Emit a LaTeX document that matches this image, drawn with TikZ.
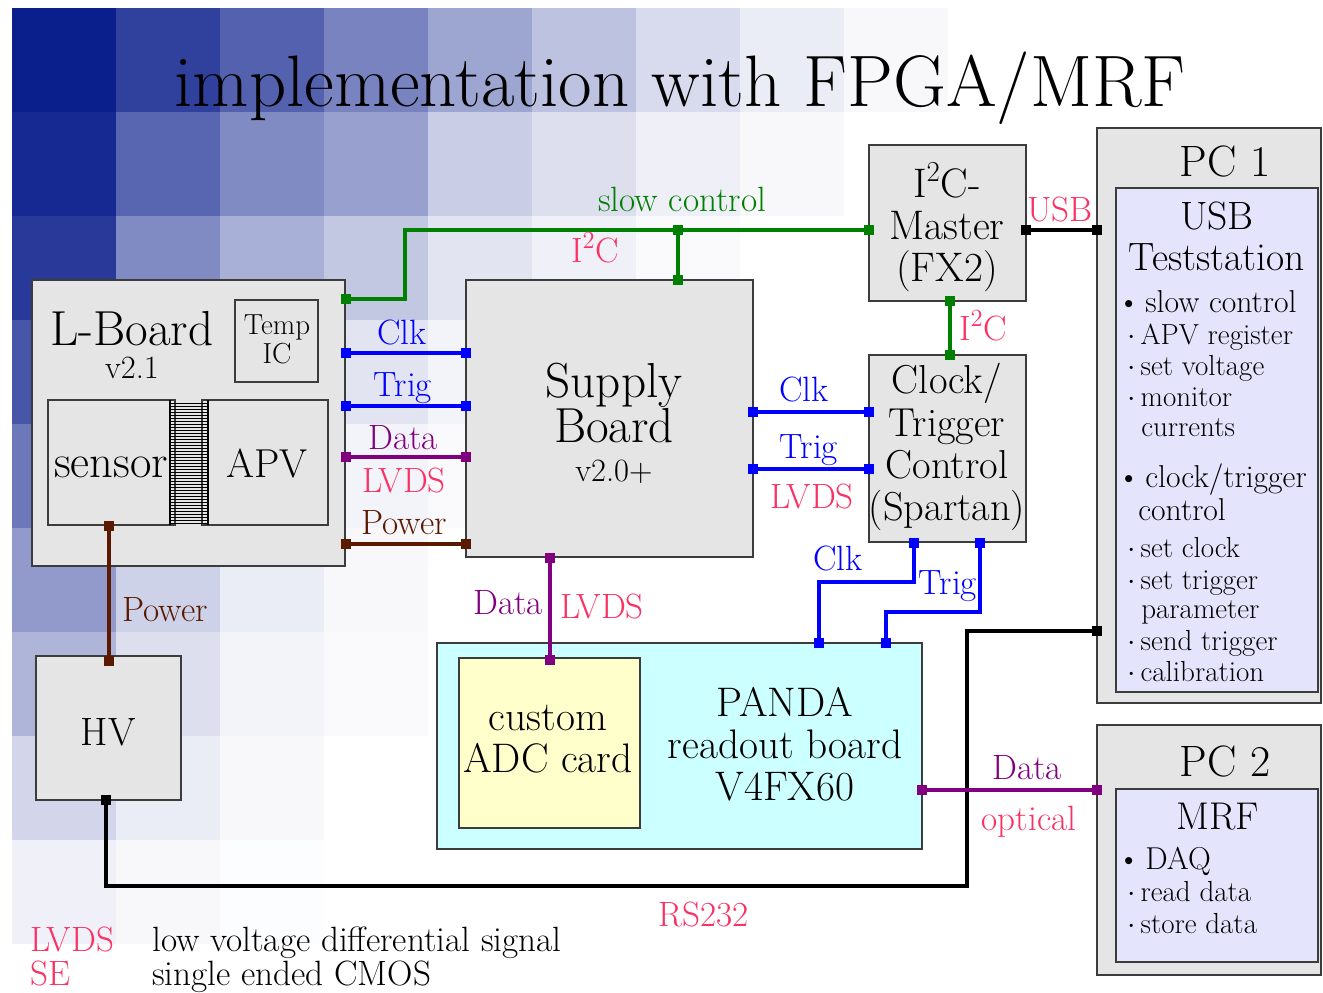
\documentclass[tikz,border=0pt]{standalone}
\usepackage{fontspec}
\usetikzlibrary{fit}

\definecolor{bgblue}{RGB}{10,30,140}
\definecolor{boxgray}{RGB}{229,229,229}
\definecolor{boxline}{RGB}{60,60,60}
\definecolor{pandafill}{RGB}{204,255,255}
\definecolor{adcfill}{RGB}{255,255,204}
\definecolor{pcfill}{RGB}{228,228,252}
\definecolor{sgreen}{RGB}{0,128,0}
\definecolor{sblue}{RGB}{0,0,255}
\definecolor{spurple}{RGB}{128,0,128}
\definecolor{sbrown}{RGB}{90,25,0}
\definecolor{spink}{RGB}{250,50,100}

\newcommand{\titlefont}{\fontsize{41.5}{46}\selectfont}
\newcommand{\headfont}{\fontsize{28}{26}\selectfont}
\newcommand{\pcfont}{\fontsize{25}{26}\selectfont}
\newcommand{\boxfont}{\fontsize{23.5}{24}\selectfont}
\newcommand{\sigfont}{\fontsize{20}{22}\selectfont}
\newcommand{\itemfont}{\fontsize{18}{20}\selectfont}
\newcommand{\subfont}{\fontsize{16.5}{18}\selectfont}
\newcommand{\tinyboxfont}{\fontsize{16.5}{18}\selectfont}
\newcommand{\Itwoc}{I\textsuperscript{2}C}

\tikzset{
  box/.style={draw=boxline, fill=boxgray, line width=0.8pt, inner sep=0pt},
  lbl/.style={anchor=base, inner sep=0pt},
  item/.style={anchor=base west, inner sep=0pt, font=\itemfont},
  subitem/.style={anchor=base west, inner sep=0pt, font=\subfont},
  wire/.style={line width=2.8pt, draw=#1},
  plug/.style={fill=#1, inner sep=0pt, minimum size=0.2cm},
}

\begin{document}
\begin{tikzpicture}[x=0.02cm, y=-0.02cm]
  % frame is (0,0) to (1323,992), y grows downwards
  \useasboundingbox (0,0) rectangle (1323,992);

  % background tiles, one row of tints per line
  \foreach \row [count=\j from 0] in {
      {100,85,70,55,40,27,16,8,3},
      {95,68,52,42,22,14,7,3,0},
      {88,52,35,25,12,6,2,0,0},
      {75,38,22,12,5,2,0,0,0},
      {60,28,12,5,2,0,0,0,0},
      {45,20,8,3,0,0,0,0,0},
      {33,14,5,2,0,0,0,0,0},
      {18,8,3,0,0,0,0,0,0},
      {6,3,1,0,0,0,0,0,0}}
    \foreach \tint [count=\i from 0] in \row
      \fill[bgblue!\tint!white] ({12+104*\i},{8+104*\j}) rectangle ++(104,104);

  % title
  \node[lbl, font=\titlefont] (title) at (680,106) {implementation with FPGA/MRF};

  % L-Board
  \node[box, fit={(32,280) (345,566)}] (lboard) {};
  \node[lbl, font=\headfont] (lbname) at (132,345) {L-Board};
  \node[lbl, font=\fontsize{18.5}{20}\selectfont] (lbver) at (132,378) {v2.1};
  \node[box, fit={(235,300) (318,382)}] (temp) {};
  \node[lbl, font=\tinyboxfont] (tempa) at (277,334) {Temp};
  \node[lbl, font=\tinyboxfont] (tempb) at (277,363) {IC};
  \node[box, fit={(48,400) (175,525)}] (sensor) {};
  \node[box, fit={(202,400) (328,525)}] (apv) {};
  \node[lbl, font=\fontsize{26.5}{28}\selectfont] (sensorname) at (111,477) {sensor};
  \node[lbl, font=\fontsize{23}{26}\selectfont] (apvname) at (267,477) {APV};
  % bonds between sensor and APV
  \foreach \k in {0,...,40}
    \draw[line width=0.4pt] (170,{403+3*\k}) -- (208,{403+3*\k});
  \draw[line width=0.6pt] (170,400) -- (170,525);
  \draw[line width=0.6pt] (208,400) -- (208,525);

  % Supply Board
  \node[box, fit={(466,280) (753,557)}] (supply) {};
  \node[font=\headfont, align=center, inner sep=0pt] (supplyname) at (614,403) {Supply\\Board};
  \node[lbl, font=\fontsize{18.5}{20}\selectfont] (supplyver) at (614,481) {v2.0+};

  % I2C master and clock/trigger control
  \node[box, fit={(869,145) (1026,301)}] (master) {};
  \node[font=\boxfont, align=center, inner sep=0pt] (mastername) at (947,227) {\Itwoc-\\Master\\(FX2)};
  \node[box, fit={(869,355) (1026,542)}] (clock) {};
  \node[font=\fontsize{23}{24}\selectfont, align=center, inner sep=0pt] (clockname) at (947,447) {Clock/\\Trigger\\Control\\(Spartan)};

  % HV
  \node[box, fit={(36,656) (181,800)}] (hv) {};
  \node[lbl, font=\fontsize{22.5}{24}\selectfont] (hvname) at (108,745) {HV};

  % PANDA readout board with ADC card
  \node[box, fill=pandafill, fit={(437,643) (922,849)}] (panda) {};
  \node[font=\boxfont, align=center, inner sep=0pt] (pandaname) at (785,744) {PANDA\\readout board\\V4FX60};
  \node[box, fill=adcfill, fit={(459,658) (640,828)}] (adc) {};
  \node[font=\boxfont, align=center, inner sep=0pt] (adcname) at (548,739) {custom\\ADC card};

  % PC 1
  \node[box, fit={(1097,128) (1321,703)}] (pcone) {};
  \node[box, fill=pcfill, fit={(1116,188) (1318,692)}] (teststation) {};
  \node[lbl, font=\pcfont] (pconename) at (1225,176) {PC 1};
  \node[lbl, font=\fontsize{22.5}{24}\selectfont] (tsa) at (1217,229) {USB};
  \node[lbl, font=\fontsize{22.5}{24}\selectfont] (tsb) at (1217,270) {Teststation};
  \node[item] (ia) at (1117,312) {\textbullet\,slow control};
  \node[subitem] (ib) at (1127,344) {$\cdot$\,APV register};
  \node[subitem] (ic) at (1127,375) {$\cdot$\,set voltage};
  \node[subitem] (id) at (1127,406) {$\cdot$\,monitor};
  \node[subitem] (ie) at (1141,436) {currents};
  \node[item] (ig) at (1117,487) {\textbullet\,clock/trigger};
  \node[item] (ih) at (1138,520) {control};
  \node[subitem] (ii) at (1127,557) {$\cdot$\,set clock};
  \node[subitem] (ij) at (1127,589) {$\cdot$\,set trigger};
  \node[subitem] (ik) at (1141,618) {parameter};
  \node[subitem] (il) at (1127,650) {$\cdot$\,send trigger};
  \node[subitem] (im) at (1127,681) {$\cdot$\,calibration};

  % PC 2
  \node[box, fit={(1097,725) (1321,975)}] (pctwo) {};
  \node[box, fill=pcfill, fit={(1116,789) (1318,962)}] (mrf) {};
  \node[lbl, font=\pcfont] (pctwoname) at (1225,776) {PC 2};
  \node[lbl, font=\fontsize{22}{24}\selectfont] (mrfname) at (1218,829) {MRF};
  \node[item] (ma) at (1117,869) {\textbullet\,DAQ};
  \node[subitem] (mb) at (1127,901) {$\cdot$\,read data};
  \node[subitem] (mc) at (1127,933) {$\cdot$\,store data};

  % plugs
  \node[plug=sgreen] (g1) at (346,299) {};
  \node[plug=sgreen] (g2) at (678,230) {};
  \node[plug=sgreen] (g3) at (678,280) {};
  \node[plug=sgreen] (g4) at (869,230) {};
  \node[plug=sgreen] (g5) at (950,301) {};
  \node[plug=sgreen] (g6) at (950,355) {};
  \node[plug=black] (u1) at (1026,230) {};
  \node[plug=black] (u2) at (1097,230) {};
  \node[plug=sblue] (k1) at (346,353) {};
  \node[plug=sblue] (k2) at (466,353) {};
  \node[plug=sblue] (t1) at (346,406) {};
  \node[plug=sblue] (t2) at (466,406) {};
  \node[plug=sblue] (k3) at (753,412) {};
  \node[plug=sblue] (k4) at (869,412) {};
  \node[plug=sblue] (t3) at (753,469) {};
  \node[plug=sblue] (t4) at (869,469) {};
  \node[plug=sblue] (k5) at (914,543) {};
  \node[plug=sblue] (k6) at (819,643) {};
  \node[plug=sblue] (t5) at (980,543) {};
  \node[plug=sblue] (t6) at (886,643) {};
  \node[plug=spurple] (d1) at (346,457) {};
  \node[plug=spurple] (d2) at (466,457) {};
  \node[plug=spurple] (d3) at (550,558) {};
  \node[plug=spurple] (d4) at (550,660) {};
  \node[plug=spurple] (d5) at (922,790) {};
  \node[plug=spurple] (d6) at (1097,790) {};
  \node[plug=sbrown] (p1) at (346,544) {};
  \node[plug=sbrown] (p2) at (466,544) {};
  \node[plug=sbrown] (p3) at (109,526) {};
  \node[plug=sbrown] (p4) at (109,661) {};
  \node[plug=black] (r1) at (106,800) {};
  \node[plug=black] (r2) at (1097,631) {};

  % connectors
  \coordinate (gbend) at (405,230);
  \coordinate (kbend) at (819,582);
  \coordinate (tbend) at (886,612);
  \coordinate (rbend) at (967,886);
  \draw[wire=sgreen] (g1) -| (gbend) -- (g4);
  \draw[wire=sgreen] (g2) -- (g3);
  \draw[wire=sgreen] (g5) -- (g6);
  \draw[wire=black] (u1) -- (u2);
  \draw[wire=sblue] (k1) -- (k2);
  \draw[wire=sblue] (t1) -- (t2);
  \draw[wire=sblue] (k3) -- (k4);
  \draw[wire=sblue] (t3) -- (t4);
  \draw[wire=sblue] (k5) |- (kbend) -- (k6);
  \draw[wire=sblue] (t5) |- (tbend) -- (t6);
  \draw[wire=spurple] (d1) -- (d2);
  \draw[wire=spurple] (d3) -- (d4);
  \draw[wire=sbrown] (p1) -- (p2);
  \draw[wire=sbrown] (p3) -- (p4);
  \draw[wire=black] (r1) |- (rbend) |- (r2);
  \draw[wire=spurple] (d5) -- (d6);

  % signal labels
  \node[lbl, font=\sigfont, text=sgreen] (slow) at (682,211) {slow control};
  \node[lbl, font=\sigfont, text=spink] (itca) at (595,262) {\Itwoc};
  \node[lbl, font=\sigfont, text=spink] (usb) at (1060,221) {USB};
  \node[lbl, font=\sigfont, text=spink] (itcb) at (983,340) {\Itwoc};
  \node[lbl, font=\sigfont, text=sblue] (clka) at (402,344) {Clk};
  \node[lbl, font=\sigfont, text=sblue] (triga) at (403,396) {Trig};
  \node[lbl, font=\sigfont, text=spurple] (dataa) at (403,449) {Data};
  \node[lbl, font=\sigfont, text=spink] (lvdsa) at (404,492) {LVDS};
  \node[lbl, font=\sigfont, text=sbrown] (powera) at (404,534) {Power};
  \node[lbl, font=\sigfont, text=sblue] (clkb) at (804,401) {Clk};
  \node[lbl, font=\sigfont, text=sblue] (trigb) at (809,458) {Trig};
  \node[lbl, font=\sigfont, text=spink] (lvdsb) at (812,508) {LVDS};
  \node[lbl, font=\sigfont, text=sblue] (clkc) at (838,570) {Clk};
  \node[lbl, font=\sigfont, text=sblue] (trigc) at (948,594) {Trig};
  \node[lbl, font=\sigfont, text=spurple] (datab) at (508,614) {Data};
  \node[lbl, font=\sigfont, text=spink] (lvdsc) at (602,618) {LVDS};
  \node[lbl, font=\sigfont, text=sbrown] (powerb) at (165,621) {Power};
  \node[lbl, font=\sigfont, text=spurple] (datac) at (1027,779) {Data};
  \node[lbl, font=\sigfont, text=spink] (optical) at (1029,830) {optical};
  \node[lbl, font=\sigfont, text=spink] (rs) at (704,926) {RS232};

  % legend
  \node[anchor=base west, inner sep=0pt, font=\sigfont, text=spink] (legla) at (30,951) {LVDS};
  \node[anchor=base west, inner sep=0pt, font=\sigfont] (leglb) at (152,951) {low voltage differential signal};
  \node[anchor=base west, inner sep=0pt, font=\sigfont, text=spink] (legsa) at (30,985) {SE};
  \node[anchor=base west, inner sep=0pt, font=\sigfont] (legsb) at (152,985) {single ended CMOS};
\end{tikzpicture}
\end{document}
